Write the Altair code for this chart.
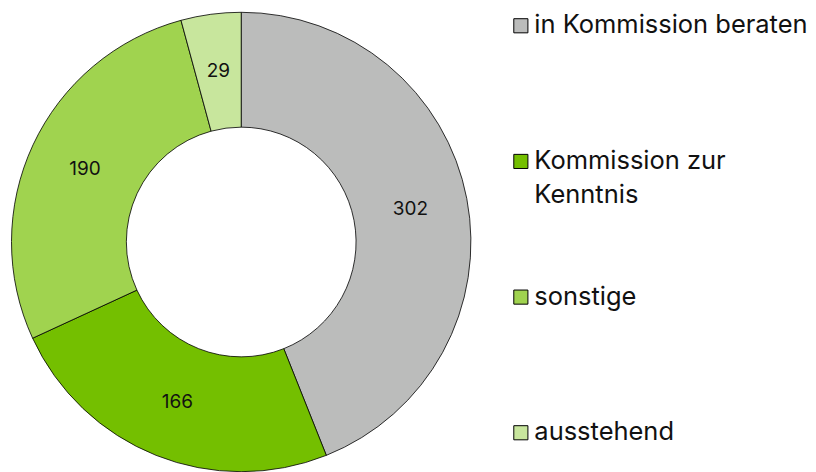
import altair as alt
import pandas as pd

categories = ["in Kommission beraten", "Kommission zur Kenntnis", "sonstige", "ausstehend"]
legend_labels = ["in Kommission beraten", "Kommission zur\nKenntnis", "sonstige", "ausstehend"]
values = [302, 166, 190, 29]
colors = ["#bbbcbb", "#74bf00", "#a0d34f", "#c8e69d"]

df = pd.DataFrame({
    "cat": categories,
    "label": legend_labels,
    "value": values,
    "order": list(range(len(categories))),
})

FONT = "Inter"
color_scale = alt.Scale(domain=categories, range=colors)

base = alt.Chart(df).encode(
    theta=alt.Theta("value:Q", stack=True),
    order=alt.Order("order:Q"),
)
arcs = base.mark_arc(radius=230, innerRadius=115, stroke="black", strokeWidth=0.8).encode(
    color=alt.Color("cat:N", scale=color_scale, legend=None),
    x=alt.value(233.5), y=alt.value(234),
)
labels = base.mark_text(radius=172.5, fontSize=19, font=FONT, color="#111111").encode(
    text="value:Q",
    x=alt.value(233.5), y=alt.value(234),
)
donut = (arcs + labels).properties(width=467, height=464)

ypos = alt.Y("cat:N", scale=alt.Scale(domain=categories, range=[17.5, 425], padding=0), axis=None)
leg = alt.Chart(df)
squares = leg.mark_square(size=200, stroke="black", strokeWidth=1, opacity=1).encode(
    x=alt.value(7.5), y=ypos,
    color=alt.Color("cat:N", scale=color_scale, legend=None),
)
texts = leg.mark_text(align="left", baseline="top", dy=-12.5, fontSize=25.5, font=FONT,
                      lineBreak="\n", lineHeight=34, color="#111111").encode(
    x=alt.value(21), y=ypos, text="label:N",
)
legend = (squares + texts).properties(width=290, height=464)

chart = alt.hconcat(donut, legend, spacing=37).properties(padding=0).configure_view(stroke=None)

chart.save("out.html", embed_options={"renderer": "svg", "actions": False})
